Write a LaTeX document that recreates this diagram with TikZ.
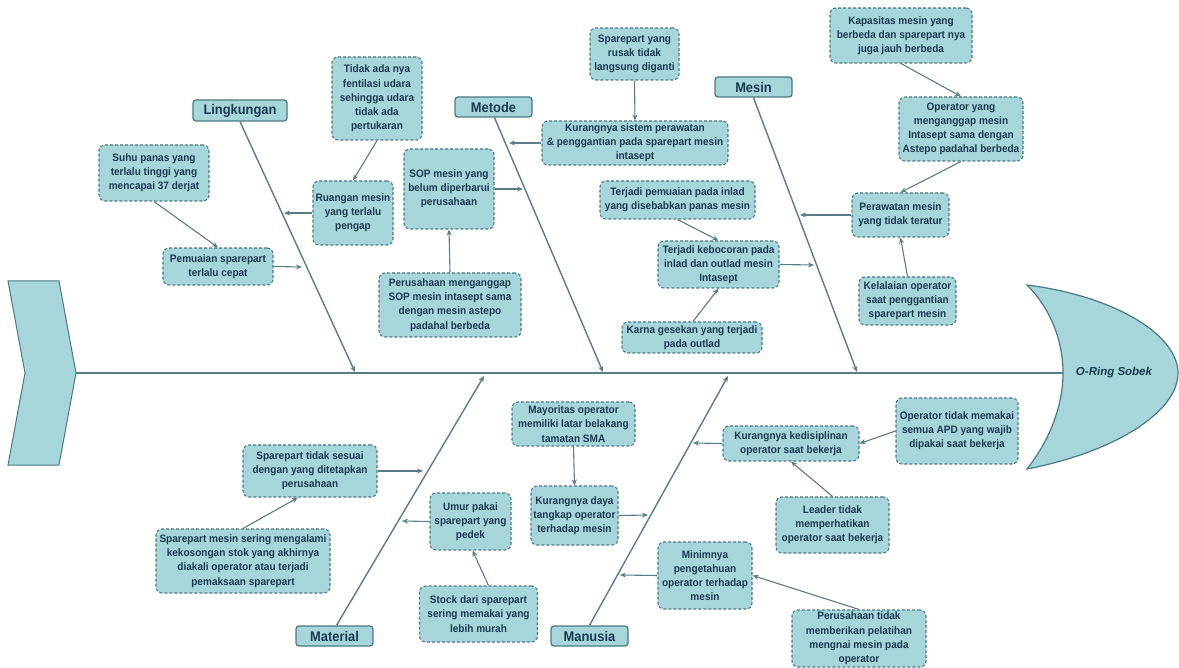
\documentclass[tikz,border=0pt]{standalone}
\usepackage{fontspec}
\setmainfont{Liberation Sans}
\newfontfamily\cfont[FakeStretch=0.93]{Liberation Sans Bold}
\newfontfamily\kfont[FakeStretch=0.92]{Liberation Sans Bold}
\usetikzlibrary{arrows.meta,calc}
\definecolor{fillc}{HTML}{A6D6D9}
\definecolor{bord}{HTML}{4A7A84}
\definecolor{linec}{HTML}{587C88}
\definecolor{txt}{HTML}{1A3A52}
\tikzset{
  cause/.style={draw=bord, fill=fillc, line width=1.1pt, dash pattern=on 3pt off 2pt,
    rounded corners=6pt, align=center, text=txt, inner sep=1pt,
    font=\cfont\fontsize{10.8}{14.2}\selectfont},
  cat/.style={draw=bord, fill=fillc, line width=1.3pt, rounded corners=3pt,
    align=center, text=txt, inner sep=1pt, font=\kfont\fontsize{14}{16}\selectfont},
  conn/.style={draw=linec, line width=1.1pt, -{Stealth[length=6pt,width=5pt]}},
  branch/.style={draw=linec, line width=1.4pt, -{Stealth[length=6pt,width=5pt]}},
}
\begin{document}
\begin{tikzpicture}[x=1pt,y=-1pt]
\useasboundingbox (0,0) rectangle (1179,668);
% tail
\path[fill=fillc, draw=bord, line width=1pt] (8,281) -- (59,281) -- (76,373) -- (59,465) -- (8,465) -- (25,373) -- cycle;
\coordinate (tail) at (76,373);
% head
\path[fill=fillc, draw=bord, line width=1.2pt] (1027,285) .. controls (1115,296) and (1178,335) .. (1178,373)
  .. controls (1178,412) and (1115,452) .. (1027,469)
  .. controls (1050,440) and (1063,405) .. (1063,373)
  .. controls (1063,340) and (1050,308) .. (1027,285) -- cycle;
\coordinate (headin) at (1063,373);
\node[text=txt, font=\bfseries\itshape\fontsize{11.5}{13}\selectfont] (head) at (1114,373) {O-Ring Sobek};
\draw[draw=linec, line width=1.6pt] (tail) -- (headin);

% categories
\node[cat, minimum width=94pt, minimum height=21pt] (lingk) at (240,110.5) {Lingkungan};
\node[cat, minimum width=77pt, minimum height=20pt] (metode) at (493.5,107) {Metode};
\node[cat, minimum width=77pt, minimum height=20pt] (mesin) at (753.5,87) {Mesin};
\node[cat, minimum width=77pt, minimum height=20pt] (material) at (334.5,636) {Material};
\node[cat, minimum width=77pt, minimum height=20pt] (manusia) at (589.5,636) {Manusia};

\coordinate (lkend) at (355,372);
\coordinate (meend) at (603,372);
\coordinate (msend) at (857,372);
\coordinate (maend) at (484,376);
\coordinate (muend) at (728,376);
\draw[branch] (lingk.south) -- (lkend);
\draw[branch] ($(metode.south)+(1,0)$) -- (meend);
\draw[branch] (mesin.south) -- (msend);
\draw[branch] ($(material.north)+(2,0)$) -- (maend);
\draw[branch] (manusia.north) -- (muend);

% Lingkungan causes
\node[cause, minimum width=90pt, minimum height=83pt] (tidak) at (377,98.5) {Tidak ada nya\\fentilasi udara\\sehingga udara\\tidak ada\\pertukaran};
\node[cause, minimum width=110pt, minimum height=56pt] (suhu) at (154,173) {Suhu panas yang\\terlalu tinggi yang\\mencapai 37 derjat};
\node[cause, minimum width=80pt, minimum height=64pt] (ruang) at (353,213) {Ruangan mesin\\yang terlalu\\pengap};
\node[cause, minimum width=110pt, minimum height=37pt] (pemu) at (218,266.5) {Pemuaian sparepart\\terlalu cepat};
\coordinate (lk1) at (284,213);
\coordinate (lk2) at (302,267);
\draw[conn] (tidak.south) -- (ruang.north);
\draw[conn] (suhu.south) -- (pemu.north);
\draw[conn] (ruang.west) -- (lk1);
\draw[conn] (pemu.east) -- (lk2);

% Metode causes
\node[cause, minimum width=90pt, minimum height=80pt] (sop) at (449,189) {SOP mesin yang\\belum diperbarui\\perusahaan};
\node[cause, minimum width=142pt, minimum height=64pt] (pmeng) at (450,305) {Perusahaan menganggap\\SOP mesin intasept sama\\dengan mesin astepo\\padahal berbeda};
\node[cause, minimum width=89pt, minimum height=52pt] (rusak) at (634.5,54) {Sparepart yang\\rusak tidak\\langsung diganti};
\node[cause, minimum width=186pt, minimum height=44pt] (sistem) at (635,143) {Kurangnya sistem perawatan\\\& penggantian pada sparepart mesin\\intasept};
\node[cause, minimum width=155pt, minimum height=38pt] (muai) at (677.5,200) {Terjadi pemuaian pada inlad\\yang disebabkan panas mesin};
\node[cause, minimum width=121pt, minimum height=47pt] (bocor) at (718.5,264.5) {Terjadi kebocoran pada\\inlad dan outlad mesin\\Intasept};
\node[cause, minimum width=140pt, minimum height=31pt] (gesek) at (692,337.5) {Karna gesekan yang terjadi\\pada outlad};
\coordinate (me1) at (509,143);
\coordinate (me2) at (523,189);
\coordinate (ms2) at (814,265);
\draw[conn] (pmeng.north) -- (sop.south);
\draw[conn] (sop.east) -- (me2);
\draw[conn] (rusak.south) -- (sistem.north);
\draw[conn] (sistem.west) -- (me1);
\draw[conn] (muai.south) -- (bocor.north);
\draw[conn] ($(gesek.north)+(1,0)$) -- (bocor.south);
\draw[conn] (bocor.east) -- (ms2);

% Mesin causes
\node[cause, minimum width=142pt, minimum height=55pt] (kap) at (901,35.5) {Kapasitas mesin yang\\berbeda dan sparepart nya\\juga jauh berbeda};
\node[cause, minimum width=124pt, minimum height=64pt] (opy) at (961,129) {Operator yang\\menganggap mesin\\Intasept sama dengan\\Astepo padahal berbeda};
\node[cause, minimum width=97pt, minimum height=44pt] (rawat) at (900.5,215) {Perawatan mesin\\yang tidak teratur};
\node[cause, minimum width=97pt, minimum height=48pt] (lalai) at (907.5,301) {Kelalaian operator\\saat penggantian\\sparepart mesin};
\coordinate (ms1) at (800,215);
\draw[conn] (kap.south) -- (opy.north);
\draw[conn] (opy.south) -- (rawat.north);
\draw[conn] (lalai.north) -- (rawat.south);
\draw[conn] (rawat.west) -- (ms1);

% Material causes
\node[cause, minimum width=134pt, minimum height=52pt] (sesuai) at (310,471) {Sparepart tidak sesuai\\dengan yang ditetapkan\\perusahaan};
\node[cause, minimum width=174pt, minimum height=64pt] (sering) at (243,561) {Sparepart mesin sering mengalami\\kekosongan stok yang akhirnya\\diakali operator atau terjadi\\pemaksaan sparepart};
\node[cause, minimum width=81pt, minimum height=57pt] (umur) at (470.5,521.5) {Umur pakai\\sparepart yang\\pedek};
\node[cause, minimum width=118pt, minimum height=56pt] (stock) at (478.5,614) {Stock dari sparepart\\sering memakai yang\\lebih murah};
\coordinate (ma1) at (423,471);
\coordinate (ma2) at (402,521);
\draw[conn] (sering.north) -- ($(sesuai.south)+(-12,0)$);
\draw[conn] (sesuai.east) -- (ma1);
\draw[conn] ($(stock.north)+(10,0)$) -- ($(umur.south)+(2,0)$);
\draw[conn] (umur.west) -- (ma2);

% Manusia causes
\node[cause, minimum width=123pt, minimum height=44pt] (mayor) at (573.5,424) {Mayoritas operator\\memiliki latar belakang\\tamatan SMA};
\node[cause, minimum width=87pt, minimum height=59pt] (daya) at (574.5,515.5) {Kurangnya daya\\tangkap operator\\terhadap mesin};
\node[cause, minimum width=136pt, minimum height=35pt] (kedis) at (791,443.5) {Kurangnya kedisiplinan\\operator saat bekerja};
\node[cause, minimum width=113pt, minimum height=56pt] (leader) at (832.5,525) {Leader tidak\\memperhatikan\\operator saat bekerja};
\node[cause, minimum width=94pt, minimum height=67pt] (minim) at (705,575.5) {Minimnya\\pengetahuan\\operator terhadap\\mesin};
\node[cause, minimum width=134pt, minimum height=57pt] (ptidak) at (859,638.5) {Perusahaan tidak\\memberikan pelatihan\\mengnai mesin pada\\operator};
\node[cause, minimum width=122pt, minimum height=66pt] (apd) at (957,431) {Operator tidak memakai\\semua APD yang wajib\\dipakai saat bekerja};
\coordinate (mu1) at (648,515);
\coordinate (mu2) at (693,443);
\coordinate (mu3) at (620,575);
\draw[conn] (mayor.south) -- (daya.north);
\draw[conn] (daya.east) -- (mu1);
\draw[conn] (kedis.west) -- (mu2);
\draw[conn] (leader.north) -- (kedis.south);
\draw[conn] (apd.west) -- (kedis.east);
\draw[conn] (minim.west) -- (mu3);
\draw[conn] (ptidak.north) -- (minim.east);
\end{tikzpicture}
\end{document}
